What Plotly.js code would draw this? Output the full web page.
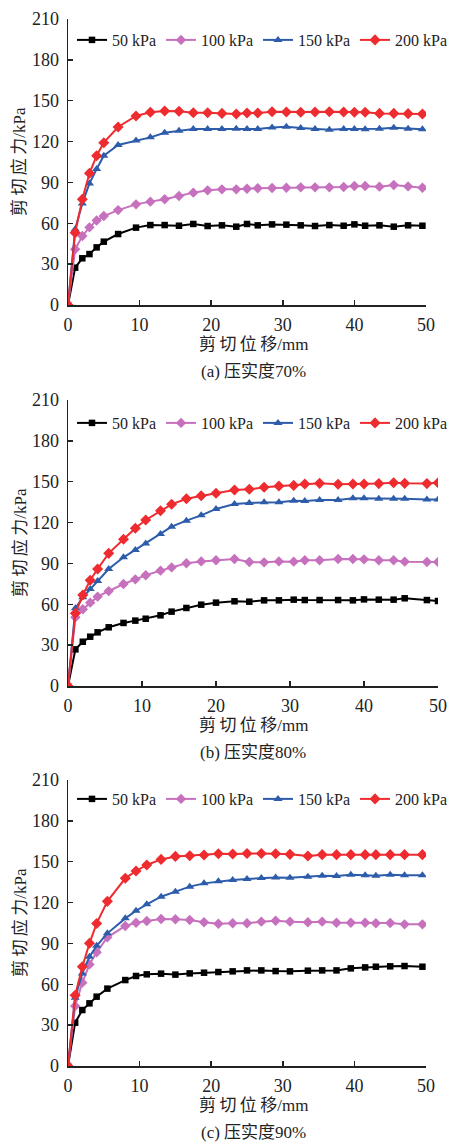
<!DOCTYPE html>
<html>
<head>
<meta charset="utf-8">
<script src="https://cdn.plot.ly/plotly-3.0.1.min.js"></script>
<style>
  html, body { margin: 0; padding: 0; background: #fff; }
  #chart { width: 449px; height: 1146px; }
</style>
</head>
<body>
<div id="chart"></div>
<script>
// Shear stress vs shear displacement at three compaction degrees
const seriesNames = ['50 kPa', '100 kPa', '150 kPa', '200 kPa'];
const captions = ['(a) 压实度70%', '(b) 压实度80%', '(c) 压实度90%'];
const yTitle = '剪\u2009切\u2009应\u2009力/kPa';
const xTitle = '剪\u2009切\u2009位\u2009移/mm';
const yTicks = [0, 30, 60, 90, 120, 150, 180, 210];
const xTicks = [0, 10, 20, 30, 40, 50];

// (a) 70%
const xA = [0, 1, 2, 3, 4, 5, 7, 9.5, 11.5, 13.5, 15.5, 17.5, 19.5, 21.5, 23.5, 25, 26.5, 28.5, 30.5, 32.5, 34.5, 36.5, 38.5, 40, 41.5, 43.5, 45.5, 47.5, 49.5];
const a50 = [0, 27.4, 34.3, 37.4, 42.3, 46.5, 52.1, 56.8, 58.7, 58.7, 58.2, 59.5, 58, 58.5, 57.5, 59.5, 58.5, 59.2, 59, 58.5, 58, 58.7, 58.2, 59.2, 58.2, 58.5, 57.5, 58.5, 58.2];
const a100 = [0, 40.9, 50.7, 57, 62, 65.3, 69.7, 73.9, 75.9, 77.6, 80, 82.5, 84.2, 84.9, 84.9, 85.4, 85.7, 85.9, 86.1, 86.4, 86.4, 86.4, 86.6, 87.4, 87.4, 86.9, 88.1, 87.1, 86.1];
const a150 = [0, 55.6, 74.6, 89.3, 99.9, 109.6, 117.5, 120.7, 123.1, 126.5, 128, 129.2, 129.2, 129.2, 129.5, 129.2, 129.2, 130.4, 130.9, 130, 129.2, 128.7, 129.2, 129.2, 129, 129.5, 130.2, 129.5, 129];
const a200 = [0, 53.1, 77.6, 96.7, 109.6, 119.2, 130.7, 138.8, 141.5, 142.4, 142.2, 141.2, 141.2, 140.7, 140.2, 141, 141, 141.9, 141.7, 141.5, 141.7, 141.9, 141.7, 141.5, 141.5, 140.7, 140.7, 140.5, 140.2];

// (b) 80%
const xB = [0, 1, 2, 3, 4, 5.5, 7.5, 9.1, 10.5, 12.5, 14, 16, 18, 20, 22.5, 24.5, 26.5, 28.5, 30.5, 32, 34, 36.5, 38.5, 40, 42, 44, 45.5, 48.5, 50];
const b50 = [0, 26.9, 32.5, 36.2, 39.4, 43.1, 46.3, 48, 49.4, 51.9, 54.6, 57.3, 59.7, 61.2, 62.2, 61.9, 62.9, 62.9, 63.4, 63.1, 63.1, 63.1, 62.9, 63.6, 63.4, 63.4, 64.4, 63.1, 62.4];
const b100 = [0, 50.4, 56.3, 61.2, 65.6, 69.7, 74.9, 78.3, 81.3, 84.7, 87.1, 90.1, 91.5, 92.3, 93.2, 91, 90.8, 91.5, 91.3, 92.3, 92.3, 93.2, 93.2, 93, 92.3, 92.3, 91.3, 91, 91];
const b150 = [0, 57, 65.1, 71.2, 77.1, 85.9, 94.5, 99.9, 104.7, 111.6, 117, 121.4, 125.3, 130, 133.6, 134.4, 134.9, 134.9, 136.1, 135.8, 136.6, 136.6, 137.8, 137.8, 137.5, 137.5, 137.5, 137, 137];
const b200 = [0, 53.4, 66.8, 77.6, 85.9, 97.4, 107.7, 115.8, 121.9, 128.7, 133.4, 137.5, 139.7, 141.5, 143.9, 144.4, 145.9, 146.8, 147.3, 148.3, 148.8, 148.1, 148.3, 148.3, 148.6, 149.3, 148.8, 148.6, 149.3];

// (c) 90%
const xC = [0, 1, 2, 3, 4, 5.5, 8, 9.5, 11, 13, 15, 17, 19, 21, 23, 25, 27, 29, 31, 33.5, 35.5, 37.5, 39.5, 41.5, 43, 45, 47, 49.5];
const c50 = [0, 31.8, 41.1, 46, 50.9, 56.8, 63.1, 66.1, 67.3, 67.8, 67.1, 68, 68.5, 69, 69.5, 70.2, 70.2, 69.7, 69.5, 70, 70.2, 70.2, 71.7, 72.4, 72.9, 73.2, 73.4, 72.9];
const c100 = [0, 44, 61.2, 74.6, 83.5, 94.5, 102.8, 105.2, 106.5, 107.9, 107.7, 107.2, 105.5, 104.5, 104.8, 104.8, 106, 106.7, 106, 105.5, 106, 105.2, 105.2, 105.2, 104.8, 105, 104, 104];
const c150 = [0, 50.2, 68, 80.3, 88.3, 97.4, 108.4, 114, 118.7, 124.3, 128, 131.7, 134.1, 135.6, 136.6, 137.3, 138, 138.5, 138.3, 139, 139.7, 139.5, 140.5, 140, 139.7, 140.5, 140, 140];
const c200 = [0, 51.9, 72.9, 90.1, 104.7, 120.9, 137.8, 143.2, 147.6, 151.7, 153.9, 154.4, 154.9, 155.9, 155.7, 156.1, 156.1, 155.9, 155.4, 154.2, 155.2, 155.2, 155.2, 155.2, 155.2, 155.2, 155.2, 155.2];

const colors = ['#000000', '#C670BE', '#2D5CAB', '#EE2B2F'];
const symbols = ['square', 'diamond', 'triangle-up', 'diamond'];
const msizes = [6.5, 8, 8, 8.5];

const W = 449, H = 1146;
const SERIF = '"Liberation Serif", "Noto Sans CJK SC", serif';

// plot boxes in px: [left, right, top, bottom]
const boxes = [
  [68, 426, 19, 305],
  [68, 438, 400, 686],
  [68, 426, 780, 1066]
];
const panels = [
  { x: xA, ys: [a50, a100, a150, a200] },
  { x: xB, ys: [b50, b100, b150, b200] },
  { x: xC, ys: [c50, c100, c150, c200] }
];
const legendTop = [40, 423, 799];

const traces = [];
const layout = {
  width: W, height: H,
  margin: { l: 0, r: 0, t: 0, b: 0, autoexpand: false },
  paper_bgcolor: '#fff', plot_bgcolor: '#fff',
  font: { family: SERIF, color: '#222' },
  annotations: []
};

panels.forEach((p, i) => {
  const n = i === 0 ? '' : String(i + 1);
  const [l, r, t, b] = boxes[i];
  const legName = 'legend' + n;
  p.ys.forEach((y, k) => {
    traces.push({
      type: 'scatter', mode: 'lines+markers',
      x: p.x, y: y, name: seriesNames[k],
      xaxis: 'x' + n, yaxis: 'y' + n,
      legend: legName,
      line: { color: colors[k], width: 2 },
      marker: { color: colors[k], symbol: symbols[k], size: msizes[k] }
    });
  });
  const axCommon = {
    showgrid: false, zeroline: false, showline: true,
    linecolor: '#222', linewidth: 1.5,
    ticks: 'inside', ticklen: 5, tickwidth: 1.5, tickcolor: '#222',
    tickfont: { family: SERIF, size: 18, color: '#222' },
    fixedrange: true
  };
  layout['xaxis' + n] = Object.assign({}, axCommon, {
    domain: [l / W, r / W], anchor: 'y' + n,
    range: [0, 50], tickvals: xTicks, ticklabelstandoff: 3
  });
  layout['yaxis' + n] = Object.assign({}, axCommon, {
    domain: [1 - b / H, 1 - t / H], anchor: 'x' + n,
    range: [0, 210], tickvals: yTicks, ticklabelstandoff: 4
  });
  layout[legName] = {
    orientation: 'h', x: 72 / W, xanchor: 'left',
    y: 1 - legendTop[i] / H, yanchor: 'middle',
    bgcolor: 'rgba(0,0,0,0)', borderwidth: 0,
    font: { family: SERIF, size: 16, color: '#222' },
    itemclick: false, itemdoubleclick: false
  };
  layout.annotations.push({
    xref: 'paper', yref: 'paper', x: 20 / W, y: 1 - (t + b) / 2 / H,
    text: yTitle, textangle: -90, showarrow: false,
    xanchor: 'center', yanchor: 'middle',
    font: { family: SERIF, size: 17, color: '#222' }
  });
  layout.annotations.push({
    xref: 'paper', yref: 'paper', x: 253 / W, y: 1 - (b + 39) / H,
    text: xTitle, showarrow: false,
    xanchor: 'center', yanchor: 'middle',
    font: { family: SERIF, size: 17, color: '#222' }
  });
  layout.annotations.push({
    xref: 'paper', yref: 'paper', x: 253 / W, y: 1 - (b + 66) / H,
    text: captions[i], showarrow: false,
    xanchor: 'center', yanchor: 'middle',
    font: { family: SERIF, size: 17, color: '#222' }
  });
});

Plotly.newPlot('chart', traces, layout, { staticPlot: true, displayModeBar: false });
</script>
</body>
</html>
